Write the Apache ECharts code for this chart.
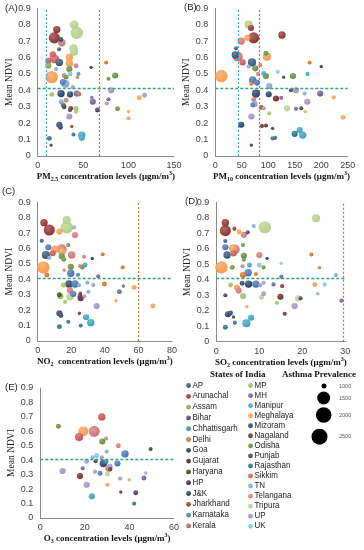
<!DOCTYPE html>
<html><head><meta charset="utf-8">
<script src="https://cdn.jsdelivr.net/npm/echarts@6/dist/echarts.min.js"></script>
<style>html,body{margin:0;padding:0;background:#fff}#c{width:364px;height:550px}</style>
</head><body><div id="c"></div>
<script>
// ---- States and colours ----
const states = ['AP','Arunachal','Assam','Bihar','Chhattisgarh','Delhi','Goa','Gujarat','Haryana','HP','J&K','Jharkhand','Karnataka','Kerala',
  'MP','MH','Manipur','Meghalaya','Mizoram','Nagaland','Odisha','Punjab','Rajasthan','Sikkim','TN','Telangana','Tripura','UP','UK'];
const stateColors = ['#2C4D75','#8B2C2A','#82A044','#4D3B62','#31859C','#D2691E','#1F2A44','#3B1A19','#2E3A1B','#261C33','#17323B','#8E2F2C','#3E6DB0','#C0504D',
  '#9BBB59','#6A5390','#31A0BC','#F79646','#1F3864','#6B1F1E','#5F8A30','#3C2E52','#1F6678','#E0522A','#7AA2D4','#D07070','#B3CF85','#9F8BC0','#79C4D8'];

// ---- Data: [state, pollutant level, mean NDVI, asthma prevalence] ----
const pm25Data = [
['Tripura',40,0.80,1900],['Tripura',43,0.75,2500],['Arunachal',21,0.77,1700],['Arunachal',18.3,0.72,2300],['Mizoram',25.4,0.71,1300],
['Telangana',26.5,0.69,1700],['AP',23.5,0.65,1170],['Tripura',39.3,0.656,1830],['Tripura',40,0.635,1830],['Kerala',16.5,0.62,1500],
['Telangana',17.2,0.605,1700],['Kerala',11.7,0.58,1500],['Kerala',19,0.59,1830],['Meghalaya',34.8,0.60,1700],['Meghalaya',34.8,0.565,1700],
['AP',23.8,0.57,1700],['Telangana',42.2,0.55,1300],['Assam',11.7,0.55,1500],['TN',20.2,0.53,1170],['Odisha',34.8,0.53,1500],
['Goa',58.8,0.54,1050],['Delhi',75.3,0.57,1170],['Meghalaya',15.4,0.48,2500],['Telangana',29,0.49,1300],['UK',35.6,0.50,1300],
['Manipur',44.8,0.50,1170],['Delhi',43.7,0.48,1050],['Odisha',31.2,0.48,1300],['Karnataka',27.6,0.45,1500],['TN',30.4,0.44,1830],
['UP',38.6,0.42,1170],['Odisha',77.9,0.47,1170],['Odisha',85.2,0.49,1500],['UP',80.8,0.40,1500],['MP',15.4,0.375,1300],
['Mizoram',25.7,0.38,1700],['Mizoram',35.6,0.375,1500],['Karnataka',43,0.38,1500],['Sikkim',45.2,0.377,1300],['Telangana',31.2,0.34,1300],
['MH',59.5,0.357,1050],['MH',60.6,0.33,1500],['MH',77.9,0.345,1170],['UP',76,0.32,1170],['TN',25.7,0.33,1300],
['Karnataka',28,0.31,1300],['Haryana',29,0.30,1300],['Nagaland',36.4,0.29,1300],['Punjab',35.6,0.28,1170],['MP',42.2,0.29,1300],
['MP',42.2,0.27,1170],['Punjab',65.7,0.28,1300],['Odisha',87.8,0.288,1300],['Meghalaya',99.9,0.27,1050],['Meghalaya',99.9,0.23,1170],
['Meghalaya',111.7,0.355,1300],['UP',117.5,0.37,1300],['UP',34.8,0.24,1500],['Mizoram',23.8,0.19,1500],['Mizoram',25,0.175,1300],
['Jharkhand',37.5,0.18,1050],['Rajasthan',39.3,0.13,1170],['Rajasthan',12.8,0.107,1300],['Manipur',48.5,0.127,1700],['Manipur',48.5,0.11,1500],
['Goa',14.7,0.066,1050]
];
const pm10Data = [
['Tripura',63,0.80,1830],['Arunachal',67.4,0.78,1500],['Arunachal',72.4,0.72,2300],['Meghalaya',60.4,0.72,1500],['Telangana',49,0.70,1700],
['Arunachal',125.8,0.737,1700],['AP',39,0.656,1170],['AP',37.8,0.615,1700],['Telangana',42.8,0.605,2100],['Kerala',51.6,0.57,1500],
['AP',69.2,0.57,1830],['Odisha',95.6,0.626,1300],['Meghalaya',97.5,0.605,1830],['Telangana',85,0.554,1170],['TN',63,0.545,1170],
['Odisha',75.5,0.534,1500],['Delhi',178,0.57,1170],['Goa',200,0.545,1050],['UK',118,0.513,1170],['Manipur',91.3,0.503,1300],
['Odisha',95.6,0.487,1500],['Telangana',80.5,0.50,1170],['Meghalaya',11.4,0.487,2500],['Haryana',129,0.48,1050],['Odisha',146.6,0.487,1500],
['Manipur',174,0.50,1170],['Karnataka',70.5,0.463,1700],['Delhi',68,0.44,1170],['Karnataka',78.7,0.447,1500],['TN',101.9,0.426,1500],
['Mizoram',76.8,0.38,1830],['Mizoram',100.8,0.376,1500],['Punjab',142.8,0.40,1170],['UP',152.3,0.40,1500],['TN',168.7,0.38,1170],
['MH',198,0.38,1500],['Meghalaya',223.4,0.357,1170],['Nagaland',114.5,0.35,1500],['MH',124.5,0.355,1170],['Telangana',72.4,0.345,1300],
['TN',74.3,0.316,1500],['Karnataka',70.5,0.31,1300],['Jharkhand',86.8,0.296,1300],['UP',91.3,0.29,1170],['UP',173.6,0.33,1500],
['Tripura',135.3,0.29,1500],['MH',152.3,0.288,1170],['Haryana',162.3,0.29,1170],['Meghalaya',169.8,0.27,1050],['MP',101.9,0.26,1170],
['UP',68,0.24,1500],['Meghalaya',241,0.235,1300],['Mizoram',49,0.19,1500],['Nagaland',88,0.183,1170],['Nagaland',95.6,0.185,1170],
['Goa',108,0.168,1050],['Rajasthan',149.8,0.134,1500],['Manipur',159.2,0.158,1500],['Manipur',165,0.127,1700],['Rajasthan',108,0.107,1170],
['Rajasthan',113,0.11,1170],['Goa',68,0.066,1050]
];
const no2Data = [
['Tripura',17.3,0.785,1830],['Tripura',17.3,0.738,2500],['TN',21.6,0.738,1170],['Arunachal',3.75,0.768,1700],['Arunachal',6.9,0.72,2300],
['Meghalaya',12.9,0.71,1500],['Telangana',22.2,0.688,1500],['AP',2.4,0.65,1170],['Odisha',18.2,0.623,1170],['Karnataka',6.3,0.608,1500],
['Meghalaya',10.3,0.595,1700],['Telangana',14.3,0.595,2100],['Meghalaya',14.6,0.58,1700],['Kerala',8.9,0.569,1500],['AP',4.9,0.558,1830],
['TN',6.9,0.54,1170],['Telangana',20.2,0.558,1700],['Odisha',14.3,0.55,1500],['Odisha',15.5,0.53,1300],['Telangana',27.6,0.547,1170],
['Goa',32.5,0.536,1050],['Delhi',38.7,0.563,1170],['Delhi',50.6,0.478,1170],['Meghalaya',3.3,0.478,2500],['Odisha',19.7,0.482,1500],
['Telangana',25.2,0.487,1170],['Manipur',28.2,0.493,1300],['Odisha',26.5,0.48,1300],['Delhi',15.7,0.46,1050],['Delhi',5.4,0.428,1300],
['Karnataka',19.7,0.44,1700],['Karnataka',24,0.43,1170],['MH',36,0.42,1170],['MP',15.3,0.363,1300],['Mizoram',18.6,0.37,1700],
['Karnataka',22.2,0.37,1700],['TN',24.6,0.363,1170],['TN',29.5,0.38,1170],['UP',33.1,0.363,1170],['Delhi',39.7,0.37,1300],
['MH',51,0.357,1050],['Meghalaya',57.4,0.348,1300],['MH',48.6,0.32,1300],['TN',30.1,0.32,1170],['Telangana',19.2,0.33,1500],
['Karnataka',21.2,0.305,1500],['Haryana',12.9,0.30,1300],['MP',13.5,0.29,1500],['Tripura',19.2,0.287,1700],['MP',16.3,0.255,1170],
['Punjab',25.6,0.277,1500],['Nagaland',25.2,0.29,1300],['Nagaland',25.4,0.31,1050],['UP',27.8,0.29,1170],['UP',35.1,0.227,1500],
['Meghalaya',46.6,0.261,1050],['Meghalaya',68.5,0.227,1300],['Mizoram',12.9,0.18,1500],['Mizoram',13.8,0.165,1300],['Nagaland',24.8,0.18,1050],
['Rajasthan',18.2,0.125,1170],['Manipur',28.8,0.154,1500],['Manipur',31.6,0.119,1700],['Rajasthan',25.6,0.10,1170],['Rajasthan',12.9,0.093,1300]
];
const so2Data = [
['Arunachal',2.1,0.768,1700],['Arunachal',2.1,0.717,2300],['Arunachal',4.2,0.73,1170],['Meghalaya',5.3,0.71,1300],['Telangana',6.4,0.69,1500],
['Mizoram',7.3,0.706,1170],['TN',8.7,0.747,1170],['Tripura',11.3,0.738,2500],['Tripura',23.2,0.797,1830],['AP',2.1,0.65,1170],
['Karnataka',2.1,0.61,1500],['Meghalaya',3.8,0.603,1700],['Telangana',4.3,0.596,2100],['Odisha',6.2,0.624,1170],['AP',2.5,0.56,1700],
['Kerala',4.0,0.57,1500],['Odisha',6.4,0.555,1500],['Odisha',6.4,0.53,1170],['Telangana',10,0.56,1500],['Goa',11.8,0.538,1050],
['Delhi',22.1,0.563,1170],['Delhi',24,0.478,1050],['Meghalaya',1.2,0.48,2500],['Odisha',3.7,0.48,1300],['Telangana',6.1,0.487,1170],
['Manipur',7.7,0.495,1300],['UK',10,0.495,1300],['Odisha',11,0.48,1170],['UK',15.1,0.506,1050],['Delhi',6.2,0.43,1500],
['Karnataka',7.4,0.445,1700],['Delhi',9.2,0.437,1170],['TN',27.8,0.43,1170],['MH',15.1,0.42,1170],['MP',3.3,0.366,1300],
['Meghalaya',4.8,0.35,1500],['Mizoram',6,0.377,1300],['Mizoram',7.5,0.372,1700],['Karnataka',9.2,0.372,1700],['UP',10.2,0.366,1170],
['UP',11,0.38,1170],['MH',13.3,0.37,1170],['Nagaland',15.3,0.36,1170],['Meghalaya',22.9,0.37,1300],['UK',25.2,0.37,1170],
['Punjab',2.1,0.30,1170],['Telangana',5.2,0.33,1500],['MP',6.2,0.295,1500],['Tripura',10.5,0.287,1300],['UP',11,0.31,1300],
['Nagaland',14.9,0.29,1500],['MP',14.1,0.252,1170],['Tripura',19,0.28,1500],['Punjab',19.6,0.28,1170],['Meghalaya',7.1,0.226,1050],
['UP',18.2,0.23,1500],['TN',23.6,0.31,1050],['MH',29.1,0.265,1170],['Mizoram',2.7,0.177,1500],['Mizoram',3.3,0.185,1300],
['Goa',4,0.16,1050],['Nagaland',15.9,0.18,1170],['Rajasthan',4.3,0.123,1170],['Manipur',8.1,0.155,1500],['Manipur',7,0.119,1830],
['Rajasthan',2.1,0.093,1300]
];
const o3Data = [
['Kerala',27.6,0.70,1700],['Odisha',8.1,0.635,1300],['Meghalaya',19.3,0.60,2100],['Telangana',24.2,0.60,2300],['Kerala',17.4,0.56,1830],
['Odisha',27.8,0.53,1500],['Telangana',29.5,0.55,1170],['Telangana',35,0.50,1300],['Haryana',49.5,0.478,1170],['Karnataka',38,0.444,1700],
['TN',29.8,0.46,1170],['UK',25.3,0.433,1300],['TN',23.5,0.42,1170],['TN',20.8,0.393,1300],['Punjab',24.8,0.393,1170],
['UP',27.6,0.42,1170],['Mizoram',28.3,0.377,1700],['Karnataka',29.5,0.39,1300],['TN',31.3,0.36,1300],['Karnataka',34.6,0.377,1500],
['Telangana',30.8,0.345,1700],['Nagaland',31.3,0.34,1170],['UP',10,0.325,1500],['MH',19,0.345,1170],['UP',24.5,0.32,1170],
['Karnataka',26.8,0.31,1300],['Tripura',30.1,0.305,1300],['UP',35.8,0.273,1170],['Meghalaya',39.9,0.265,1050],['MH',46.5,0.277,1300],
['TN',47.3,0.312,1050],['Nagaland',17.8,0.29,1500],['UP',20.8,0.23,1500],['Meghalaya',30.1,0.23,1170],['Nagaland',36.1,0.18,1050],
['Punjab',42.8,0.175,1300],['Manipur',23.1,0.15,1500],['Rajasthan',42.1,0.10,1170]
];

// ---- Reference lines ----
const ndviMeanLine = 0.41;
const pm25Lines = [9, 68];
const pm10Lines = [44, 83];
const no2Lines = [60];
const so2Lines = [29.5];
const asthmaLegendValues = [1000, 1500, 2000, 2500];

// ---- Helpers ----
function lighten(hex, f) {
  const n = parseInt(hex.slice(1), 16);
  let r = n >> 16, g = (n >> 8) & 255, b = n & 255;
  r = Math.round(r + (255 - r) * f); g = Math.round(g + (255 - g) * f); b = Math.round(b + (255 - b) * f);
  return 'rgb(' + r + ',' + g + ',' + b + ')';
}
function bubbleFill(hex) {
  return new echarts.graphic.RadialGradient(0.38, 0.32, 0.75, [
    { offset: 0, color: lighten(hex, 0.3) }, { offset: 1, color: hex }]);
}
function colorOf(s) { return stateColors[states.indexOf(s)]; }
function sizeOf(v) { return 3 + (v - 1000) / 160; }

const tickFont = "'Liberation Sans',Arial,sans-serif";
const serif = "'Liberation Serif','Times New Roman',serif";
const BLUE = '#3AAED8', BROWN = '#C8702E';

const panels = [
  { data: pm25Data, lines: pm25Lines, lineColors: [BLUE, BROWN], max: 150, interval: 50, pre: 'PM', sub: '2.5', gap: ' ',
    grid: { left: 37.7, top: 8.3, width: 136.3, height: 147.6 }, label: '(A)', lx: 5, ly: 9 },
  { data: pm10Data, lines: pm10Lines, lineColors: [BLUE, BROWN], max: 250, interval: 50, pre: 'PM', sub: '10', gap: ' ',
    grid: { left: 215.3, top: 8.3, width: 132.4, height: 147.6 }, label: '(B)', lx: 184, ly: 8 },
  { data: no2Data, lines: no2Lines, lineColors: [BROWN], max: 80, interval: 20, pre: 'NO', sub: '2', gap: '  ',
    grid: { left: 37.7, top: 202.3, width: 134.3, height: 138.7 }, label: '(C)', lx: 2, ly: 192 },
  { data: so2Data, lines: so2Lines, lineColors: [BROWN], max: 30, interval: 10, pre: 'SO', sub: '2', gap: ' ',
    grid: { left: 216.3, top: 202.3, width: 129, height: 139.4 }, label: '(D)', lx: 185, ly: 202 },
  { data: o3Data, lines: [], lineColors: [], max: 60, interval: 20, pre: 'O', sub: '3', gap: ' ',
    grid: { left: 40.3, top: 388, width: 133.7, height: 130 }, label: '(E)', lx: 5, ly: 388 }
];

const grids = [], xAxes = [], yAxes = [], series = [], graphics = [];
panels.forEach((p, i) => {
  grids.push(Object.assign({ containLabel: false }, p.grid));
  xAxes.push({
    type: 'value', gridIndex: i, min: 0, max: p.max, interval: p.interval,
    axisLine: { show: true, onZero: false, lineStyle: { color: '#8a8a8a', width: 1 } },
    axisTick: { show: false }, splitLine: { show: false },
    axisLabel: { fontSize: 9, color: '#404040', fontFamily: tickFont, margin: 5 },
    name: '{b|' + p.pre + '}{s|' + p.sub + '}{b|' + p.gap + 'concentration levels (μgm/m}{u|3}{b|)}',
    nameLocation: 'middle', nameGap: 9,
    nameTextStyle: {
      rich: {
        b: { fontFamily: serif, fontWeight: 'bold', fontSize: 9, color: '#111', lineHeight: 12 },
        s: { fontFamily: serif, fontWeight: 'bold', fontSize: 6, color: '#111', verticalAlign: 'bottom', lineHeight: 12 },
        u: { fontFamily: serif, fontWeight: 'bold', fontSize: 6, color: '#111', verticalAlign: 'top', lineHeight: 12 }
      }
    }
  });
  yAxes.push({
    type: 'value', gridIndex: i, min: 0, max: 0.9, interval: 0.1,
    axisLine: { show: true, lineStyle: { color: '#8a8a8a', width: 1 } },
    axisTick: { show: false }, splitLine: { show: false },
    axisLabel: { fontSize: 9, color: '#404040', fontFamily: tickFont, margin: 7,
      formatter: v => (Math.abs(v) < 1e-9 ? '0' : v.toFixed(1)) },
    name: 'Mean NDVI', nameLocation: 'middle', nameGap: 17, nameRotate: 90,
    nameTextStyle: { fontFamily: serif, fontSize: 9.5, color: '#222' }
  });
  const mlData = p.lines.map((v, k) => ({ xAxis: v, lineStyle: { color: p.lineColors[k], type: [2, 2], width: 1.2, opacity: 1 } }));
  mlData.push({ yAxis: ndviMeanLine, lineStyle: { color: '#2FA37C', type: [3, 2], width: 1.3, opacity: 1 } });
  series.push({
    type: 'scatter', xAxisIndex: i, yAxisIndex: i, animation: false,
    itemStyle: { opacity: 1 },
    data: p.data.slice().sort((a, b) => b[3] - a[3]).map(d => ({
      value: [d[1], d[2]], symbolSize: sizeOf(d[3]),
      itemStyle: { color: bubbleFill(colorOf(d[0])), opacity: 1 }
    })),
    markLine: { silent: true, symbol: 'none', label: { show: false }, animation: false, data: mlData }
  });
  graphics.push({ type: 'text', left: p.lx, top: p.ly - 5.5,
    style: { text: p.label, fontSize: 9.5, fontFamily: "'Liberation Sans',Arial,sans-serif", fill: '#222' } });
});

// ---- Legend: states ----
graphics.push({ type: 'text', left: 210, top: 370, style: { text: 'States of India', fontSize: 9, fontWeight: 'bold', fontFamily: serif, fill: '#111' } });
graphics.push({ type: 'text', left: 282, top: 370, style: { text: 'Asthma Prevalence', fontSize: 9, fontWeight: 'bold', fontFamily: serif, fill: '#111' } });
states.forEach((s, k) => {
  const col = k < 14 ? 0 : 1;
  const row = col === 0 ? k : k - 14;
  const mx = col === 0 ? 188.5 : 250.5;
  const y = col === 0 ? 385.5 + row * 10.8 : 385.5 + row * 10.05;
  graphics.push({ type: 'circle', shape: { cx: mx, cy: y, r: 2.4 }, style: { fill: bubbleFill(stateColors[k]) } });
  graphics.push({ type: 'text', x: mx + 4, y: y - 5.5, scaleX: 0.84,
    style: { text: s, fontSize: 9.5, fontFamily: tickFont, fill: '#222' } });
});
// ---- Legend: asthma prevalence ----
const asthmaLegendR = [2.5, 6.5, 7.8, 8];
const asthmaLegendPos = [[324, 386], [323.7, 398], [323.7, 415], [319.5, 436.7]];
asthmaLegendValues.forEach((v, k) => {
  graphics.push({ type: 'circle', shape: { cx: asthmaLegendPos[k][0], cy: asthmaLegendPos[k][1], r: asthmaLegendR[k] }, style: { fill: '#000' } });
  graphics.push({ type: 'text', left: 339, top: asthmaLegendPos[k][1] - 3,
    style: { text: String(v), fontSize: 5.5, fontFamily: tickFont, fill: '#555' } });
});

const chart = echarts.init(document.getElementById('c'), null, { renderer: 'canvas' });
chart.setOption({
  backgroundColor: '#fff', animation: false,
  grid: grids, xAxis: xAxes, yAxis: yAxes, series: series, graphic: graphics
});
</script></body></html>
